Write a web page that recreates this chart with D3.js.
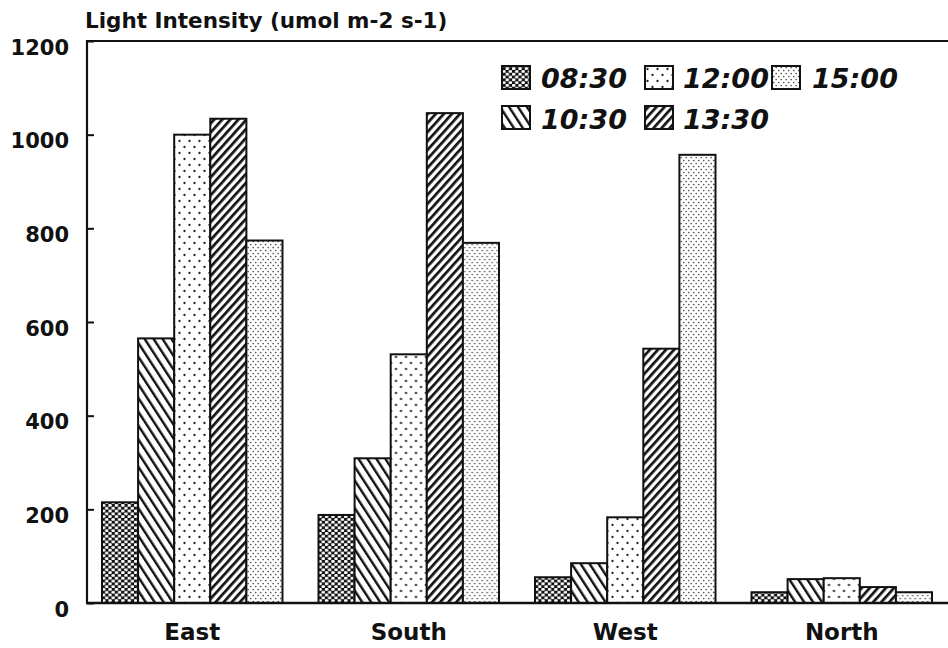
<!DOCTYPE html>
<html>
<head>
<meta charset="utf-8">
<script src="https://cdn.jsdelivr.net/npm/d3@7"></script>
<style>
  html, body { margin: 0; padding: 0; background: #fff; }
  svg { display: block; }
  text { font-family: "DejaVu Sans", sans-serif; fill: #111; }
</style>
</head>
<body>
<script>
// Light intensity by wall orientation and time of day
const categories = ["East", "South", "West", "North"];
const times = ["08:30", "10:30", "12:00", "13:30", "15:00"];
const v0830 = [215, 188, 55, 23];
const v1030 = [565, 309, 85, 51];
const v1200 = [1000, 531, 183, 53];
const v1330 = [1034, 1046, 543, 34];
const v1500 = [774, 769, 957, 23];
const yTicks = [0, 200, 400, 600, 800, 1000, 1200];
const yTitle = "Light Intensity (umol m-2 s-1)";

const series = [v0830, v1030, v1200, v1330, v1500];
const patternIds = ["p0830", "p1030", "p1200", "p1330", "p1500"];

const W = 948, H = 648;
const svg = d3.select("body").append("svg").attr("width", W).attr("height", H);
const defs = svg.append("defs");

// Fill patterns, one per time of day
{
  // 08:30: black ground with white rounded holes
  const p = defs.append("pattern").attr("id", "p0830").attr("patternUnits", "userSpaceOnUse")
    .attr("width", 6.4).attr("height", 5.6);
  p.append("rect").attr("width", 6.4).attr("height", 5.6).attr("fill", "#111");
  p.append("ellipse").attr("cx", 1.6).attr("cy", 1.4).attr("rx", 1.95).attr("ry", 1.45).attr("fill", "#fff");
  p.append("ellipse").attr("cx", 4.8).attr("cy", 4.2).attr("rx", 1.95).attr("ry", 1.45).attr("fill", "#fff");
}
{
  // 10:30: steep back-slanted stripes
  const p = defs.append("pattern").attr("id", "p1030").attr("patternUnits", "userSpaceOnUse")
    .attr("width", 7.5).attr("height", 10).attr("patternTransform", "rotate(-33)");
  p.append("rect").attr("width", 7.5).attr("height", 10).attr("fill", "#fff");
  p.append("rect").attr("x", 0).attr("width", 2.4).attr("height", 10).attr("fill", "#111");
}
{
  // 12:00: sparse dots
  const p = defs.append("pattern").attr("id", "p1200").attr("patternUnits", "userSpaceOnUse")
    .attr("width", 10).attr("height", 12);
  p.append("rect").attr("width", 10).attr("height", 12).attr("fill", "#fff");
  p.append("circle").attr("cx", 2.5).attr("cy", 3).attr("r", 1.15).attr("fill", "#222");
  p.append("circle").attr("cx", 7.5).attr("cy", 9).attr("r", 1.15).attr("fill", "#222");
}
{
  // 13:30: forward-slanted stripes
  const p = defs.append("pattern").attr("id", "p1330").attr("patternUnits", "userSpaceOnUse")
    .attr("width", 6).attr("height", 10).attr("patternTransform", "rotate(42)");
  p.append("rect").attr("width", 6).attr("height", 10).attr("fill", "#fff");
  p.append("rect").attr("x", 0).attr("width", 2.7).attr("height", 10).attr("fill", "#111");
}
{
  // 15:00: fine dense dots
  const p = defs.append("pattern").attr("id", "p1500").attr("patternUnits", "userSpaceOnUse")
    .attr("width", 5).attr("height", 6);
  p.append("rect").attr("width", 5).attr("height", 6).attr("fill", "#fff");
  p.append("circle").attr("cx", 1.2).attr("cy", 1.5).attr("r", 0.85).attr("fill", "#555");
  p.append("circle").attr("cx", 3.7).attr("cy", 4.5).attr("r", 0.85).attr("fill", "#555");
}

// Scales
const axisX = 87;
const x0 = d3.scaleBand().domain(categories).range([84, 950])
  .paddingInner(0.1663).paddingOuter(0.0831);
const x1 = d3.scaleBand().domain(times).range([0, x0.bandwidth()]);
const y = d3.scaleLinear().domain([0, 1200]).range([603, 41]);

// Bars
const groups = svg.append("g").selectAll("g").data(categories).join("g")
  .attr("transform", d => `translate(${x0(d)},0)`);
groups.selectAll("rect")
  .data((c, ci) => times.map((t, ti) => ({ t, ti, v: series[ti][ci] })))
  .join("rect")
  .attr("x", d => x1(d.t))
  .attr("y", d => y(d.v))
  .attr("width", x1.bandwidth())
  .attr("height", d => y(0) - y(d.v))
  .attr("fill", d => `url(#${patternIds[d.ti]})`)
  .attr("stroke", "#111").attr("stroke-width", 2);

// Frame: left axis, top line and baseline
svg.append("line").attr("x1", axisX).attr("x2", axisX).attr("y1", y(1200)).attr("y2", y(0))
  .attr("stroke", "#111").attr("stroke-width", 2.2);
svg.append("line").attr("x1", axisX - 1).attr("x2", W + 5).attr("y1", y(1200)).attr("y2", y(1200))
  .attr("stroke", "#111").attr("stroke-width", 2.2);
svg.append("line").attr("x1", axisX - 1).attr("x2", W + 5).attr("y1", y(0)).attr("y2", y(0))
  .attr("stroke", "#111").attr("stroke-width", 2.4);

// Y axis ticks (inward) and labels
const yAxis = d3.axisRight(y).tickValues(yTicks).tickSize(7).tickFormat(d => d);
const ya = svg.append("g").attr("transform", `translate(${axisX},0)`).call(yAxis);
ya.select(".domain").remove();
ya.selectAll(".tick line").attr("stroke", "#111").attr("stroke-width", 2);
ya.selectAll(".tick text")
  .attr("x", -18).attr("dy", "0.62em").attr("text-anchor", "end")
  .style("font-family", "'DejaVu Sans', sans-serif").style("font-weight", "bold")
  .style("font-size", "21px").attr("fill", "#111");

// Category labels
svg.append("g").selectAll("text").data(categories).join("text")
  .attr("x", d => x0(d) + x0.bandwidth() / 2)
  .attr("y", 640)
  .attr("text-anchor", "middle")
  .style("font-weight", "bold").style("font-size", "23px")
  .text(d => d);

// Axis title
svg.append("text").attr("x", 85).attr("y", 28)
  .style("font-weight", "bold").style("font-size", "21.5px")
  .text(yTitle);

// Legend
const legendPos = [
  { sx: 502, sy: 66, tx: 541, ty: 88 },
  { sx: 502, sy: 106, tx: 541, ty: 129 },
  { sx: 645, sy: 66, tx: 683, ty: 88 },
  { sx: 645, sy: 106, tx: 683, ty: 129 },
  { sx: 772, sy: 66, tx: 812, ty: 88 }
];
const leg = svg.append("g").selectAll("g").data(times).join("g");
leg.append("rect")
  .attr("x", (d, i) => legendPos[i].sx).attr("y", (d, i) => legendPos[i].sy)
  .attr("width", 28).attr("height", 23)
  .attr("fill", (d, i) => `url(#${patternIds[i]})`)
  .attr("stroke", "#111").attr("stroke-width", 2);
leg.append("text")
  .attr("x", (d, i) => legendPos[i].tx).attr("y", (d, i) => legendPos[i].ty)
  .style("font-style", "italic").style("font-weight", "bold").style("font-size", "27px")
  .text(d => d);
</script>
</body>
</html>
